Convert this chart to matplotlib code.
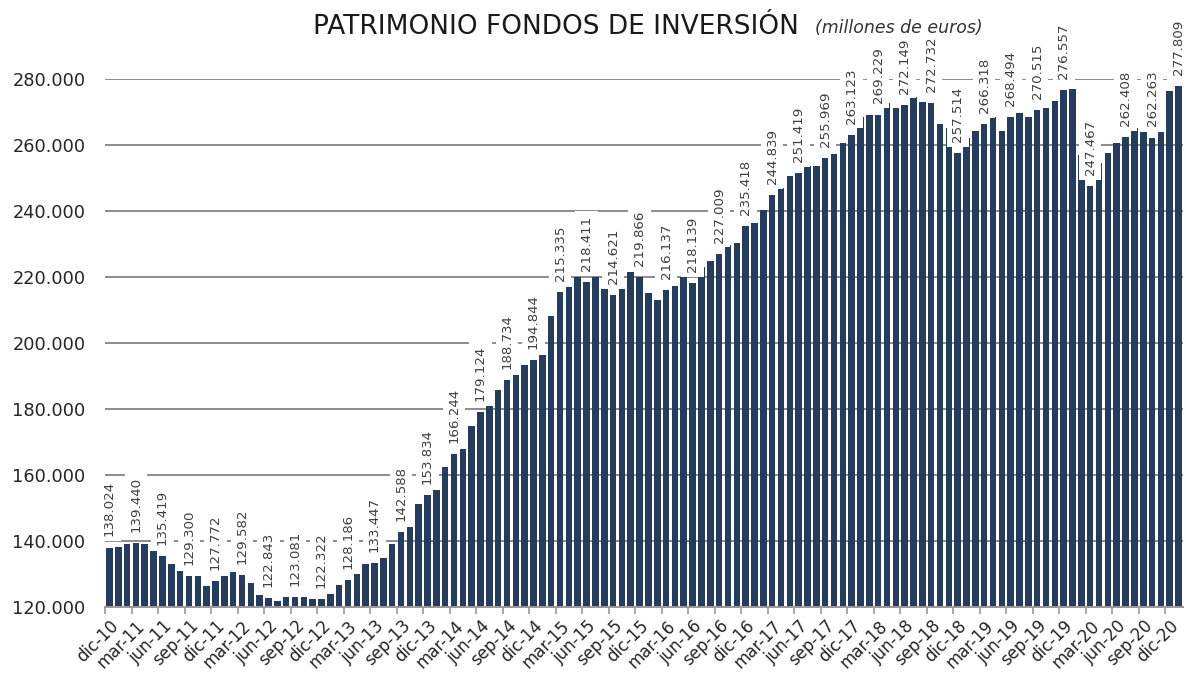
import matplotlib
matplotlib.use("Agg")
import matplotlib.pyplot as plt
from matplotlib.ticker import FuncFormatter, FixedLocator

# ---- data (millones de euros), monthly from dic-10 ----
month_names = ["ene", "feb", "mar", "abr", "may", "jun",
               "jul", "ago", "sep", "oct", "nov", "dic"]
start_month_index = 11   # dic
start_year = 10
n_months = 122
categories = [f"{month_names[(start_month_index + i) % 12]}-{start_year + (start_month_index + i) // 12}"
              for i in range(n_months)]

values = [
    138024, 138200, 139060, 139440, 139060, 137000, 135419, 132900, 131000, 129300,
    129300, 126350, 127772, 129300, 130500, 129582, 127360, 123500, 122843, 121700,
    123000, 123081, 123000, 122500, 122322, 123800, 126600, 128186, 129900, 132900,
    133447, 135000, 139000, 142588, 144100, 151200, 153834, 155500, 162300, 166244,
    168000, 175000, 179124, 180800, 185800, 188734, 190400, 193200, 194844, 196500,
    208300, 215335, 217000, 219900, 218411, 219900, 216400, 214621, 216400, 221500,
    219866, 215200, 212950, 216137, 217400, 220000, 218139, 223050, 225000, 227009,
    229600, 230400, 235418, 236400, 240400, 244839, 247000, 250700, 251419, 253500,
    253500, 255969, 257400, 260500, 263123, 268600, 269200, 269229, 272700, 271300,
    272149, 274600, 272900, 272732, 266500, 265100, 257514, 262100, 264300, 266318,
    268600, 264300, 268494, 269700, 268500, 270515, 271300, 273400, 276557, 276900,
    257000, 247467, 254500, 257500, 260700, 262408, 265100, 263800, 262263, 263800,
    276500, 277809,
]

# bars carrying a data label
label_indices = list(range(0, 112, 3)) + [115, 118, 121]

# x-axis labels: every third month starting at dic-10
xtick_step = 3

y_min, y_max, y_step = 120000, 280000, 20000


def es_thousands(v):
    return f"{v:,.0f}".replace(",", ".")


BAR_COLOR = "#243d5f"
GRID_COLOR = "#8c8c8c"
TEXT_DARK = "#262626"
LABEL_COLOR = "#404040"

fig = plt.figure(figsize=(11.86, 6.75), dpi=100)
ax = fig.add_axes([105 / 1186, 1 - 607 / 675, (1183 - 105) / 1186, (607 - 79) / 675])

x = list(range(len(values)))
ax.bar(x, values, width=0.74, color=BAR_COLOR, zorder=2)

ax.set_xlim(-0.5, len(values) - 0.5)
ax.set_ylim(y_min, y_max)

# y axis
yticks = list(range(y_min, y_max + 1, y_step))
ax.yaxis.set_major_locator(FixedLocator(yticks))
ax.yaxis.set_major_formatter(FuncFormatter(lambda v, p: es_thousands(v)))
ax.tick_params(axis="y", length=0, pad=14, labelsize=12.8, labelcolor=TEXT_DARK)
for yt in yticks[1:]:
    ax.axhline(yt, color=GRID_COLOR, linewidth=1.4, zorder=1)

# x axis
major_pos = list(range(0, len(values), xtick_step))
ax.set_xticks(major_pos)
ax.set_xticklabels([categories[i] for i in major_pos], rotation=45, ha="right",
                   rotation_mode="anchor", fontsize=12, color=TEXT_DARK)
ax.set_xticks([p - 0.5 for p in major_pos], minor=True)
ax.tick_params(axis="x", which="major", length=0, pad=7)
ax.tick_params(axis="x", which="minor", length=5, width=1.2, color="#999999")

for s in ["top", "right", "left"]:
    ax.spines[s].set_visible(False)
ax.spines["bottom"].set_color("#999999")
ax.spines["bottom"].set_linewidth(1.4)
ax.spines["bottom"].set_zorder(4)

# data labels
for i in label_indices:
    ax.annotate(es_thousands(values[i]), xy=(i, values[i]), xytext=(0, 8),
                textcoords="offset points", rotation=90, ha="center", va="bottom",
                fontsize=9.6, color=LABEL_COLOR, zorder=3, annotation_clip=False,
                bbox=dict(boxstyle="square,pad=0.35", facecolor="white", edgecolor="none"))

# title (figure-level, drawn above the axes content)
fig.text(313 / 1186, 1 - 34 / 675, "PATRIMONIO FONDOS DE INVERSIÓN",
         fontsize=19, color="#1a1a1a", ha="left", va="baseline")
fig.text(815 / 1186, 1 - 33 / 675, "(millones de euros)",
         fontsize=12.5, style="italic", color="#333333", ha="left", va="baseline",
         zorder=5)

fig.savefig("out.png", dpi=100, facecolor="white")
